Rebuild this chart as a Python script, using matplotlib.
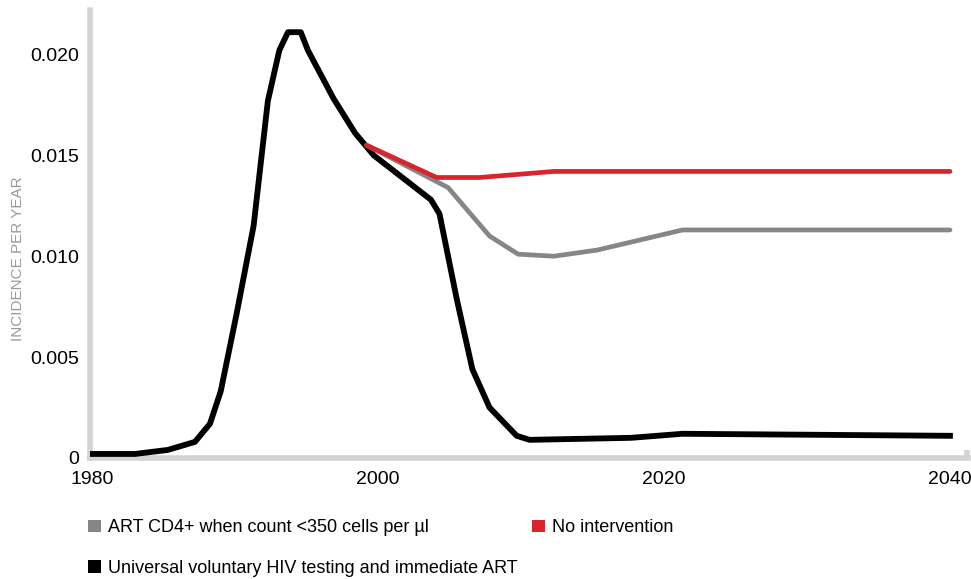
import matplotlib
matplotlib.use("Agg")
import matplotlib.pyplot as plt
from matplotlib.patches import Patch
from matplotlib import font_manager

# --- data ---
black_years = [1980, 1983, 1985.3, 1987.2, 1988.25, 1989, 1990.1, 1991.3, 1992.3,
               1993.1, 1993.7, 1994.6, 1995.1, 1996.9, 1998.4, 1999.7, 2003.7,
               2004.3, 2005.5, 2006.6, 2007.8, 2009.7, 2010.6, 2017.7, 2021.3, 2040]
black_vals = [0.0002, 0.0002, 0.0004, 0.0008, 0.0017, 0.0033, 0.0071, 0.0115, 0.0177,
              0.0202, 0.0211, 0.0211, 0.0202, 0.0178, 0.0161, 0.0150, 0.0128,
              0.0121, 0.0079, 0.0044, 0.0025, 0.0011, 0.0009, 0.0010, 0.0012, 0.0011]

grey_years = [1999.2, 2004.9, 2007.8, 2009.8, 2012.3, 2015.3, 2021.3, 2040]
grey_vals = [0.0155, 0.0134, 0.0110, 0.0101, 0.0100, 0.0103, 0.0113, 0.0113]

red_years = [1999.2, 2004.1, 2007.1, 2012.3, 2040]
red_vals = [0.0155, 0.0139, 0.0139, 0.0142, 0.0142]

x_ticks = [1980, 2000, 2020, 2040]
y_ticks = [0, 0.005, 0.010, 0.015, 0.020]
y_tick_labels = ["0", "0.005", "0.010", "0.015", "0.020"]

labels = ["ART CD4+ when count <350 cells per µl",
          "Universal voluntary HIV testing and immediate ART",
          "No intervention"]

BLACK = "#000000"
GREY = "#86868a"
RED = "#d9232d"
AXIS = "#d3d3d5"

installed = {f.name for f in font_manager.fontManager.ttflist}
narrow = "Liberation Sans Narrow" if "Liberation Sans Narrow" in installed else "Liberation Sans"
plt.rcParams["font.family"] = ["Liberation Sans", "DejaVu Sans"]

fig = plt.figure(figsize=(9.71, 5.79), dpi=100)
ax = fig.add_axes([90 / 971, 121 / 579, 878 / 971, 448 / 579])

ax.plot(black_years, black_vals, color=BLACK, lw=4.2, zorder=3)
ax.plot(grey_years, grey_vals, color=GREY, lw=3.4, solid_capstyle="round", zorder=4)
ax.plot(red_years, red_vals, color=RED, lw=3.4, solid_capstyle="round", zorder=5)

ax.set_xlim(1979.86, 2041.26)
ax.set_ylim(0, 0.0222)

for s in ["top", "right"]:
    ax.spines[s].set_visible(False)
for s in ["left", "bottom"]:
    ax.spines[s].set_color(AXIS)
    ax.spines[s].set_linewidth(4)

ax.set_xticks(x_ticks)
ax.set_yticks(y_ticks)
ax.set_yticklabels(y_tick_labels)
ax.tick_params(axis="both", length=0, labelsize=14, colors="black")
ax.tick_params(axis="x", pad=9)
ax.tick_params(axis="y", pad=8)

# little stubs seen in the reference
ax.set_yticks([0.020], minor=True)
ax.set_xticks([2041.2], minor=True)
ax.tick_params(which="minor", direction="in", length=6, width=4, color=AXIS)

ax.set_ylabel("INCIDENCE PER YEAR", color="#9a9a9c", fontsize=11)
ax.yaxis.set_label_coords(-0.074, 0.446)

handles = [Patch(facecolor=GREY), Patch(facecolor=BLACK), Patch(facecolor=RED)]
fig.legend(handles, labels, loc="upper left", bbox_to_anchor=(72 / 971, 1 - 503 / 579),
           ncol=2, frameon=False, handlelength=0.7, handleheight=0.7,
           handletextpad=0.4, columnspacing=0.8, labelspacing=1.3,
           prop={"family": narrow, "size": 13})

fig.savefig("out.png", dpi=100)
